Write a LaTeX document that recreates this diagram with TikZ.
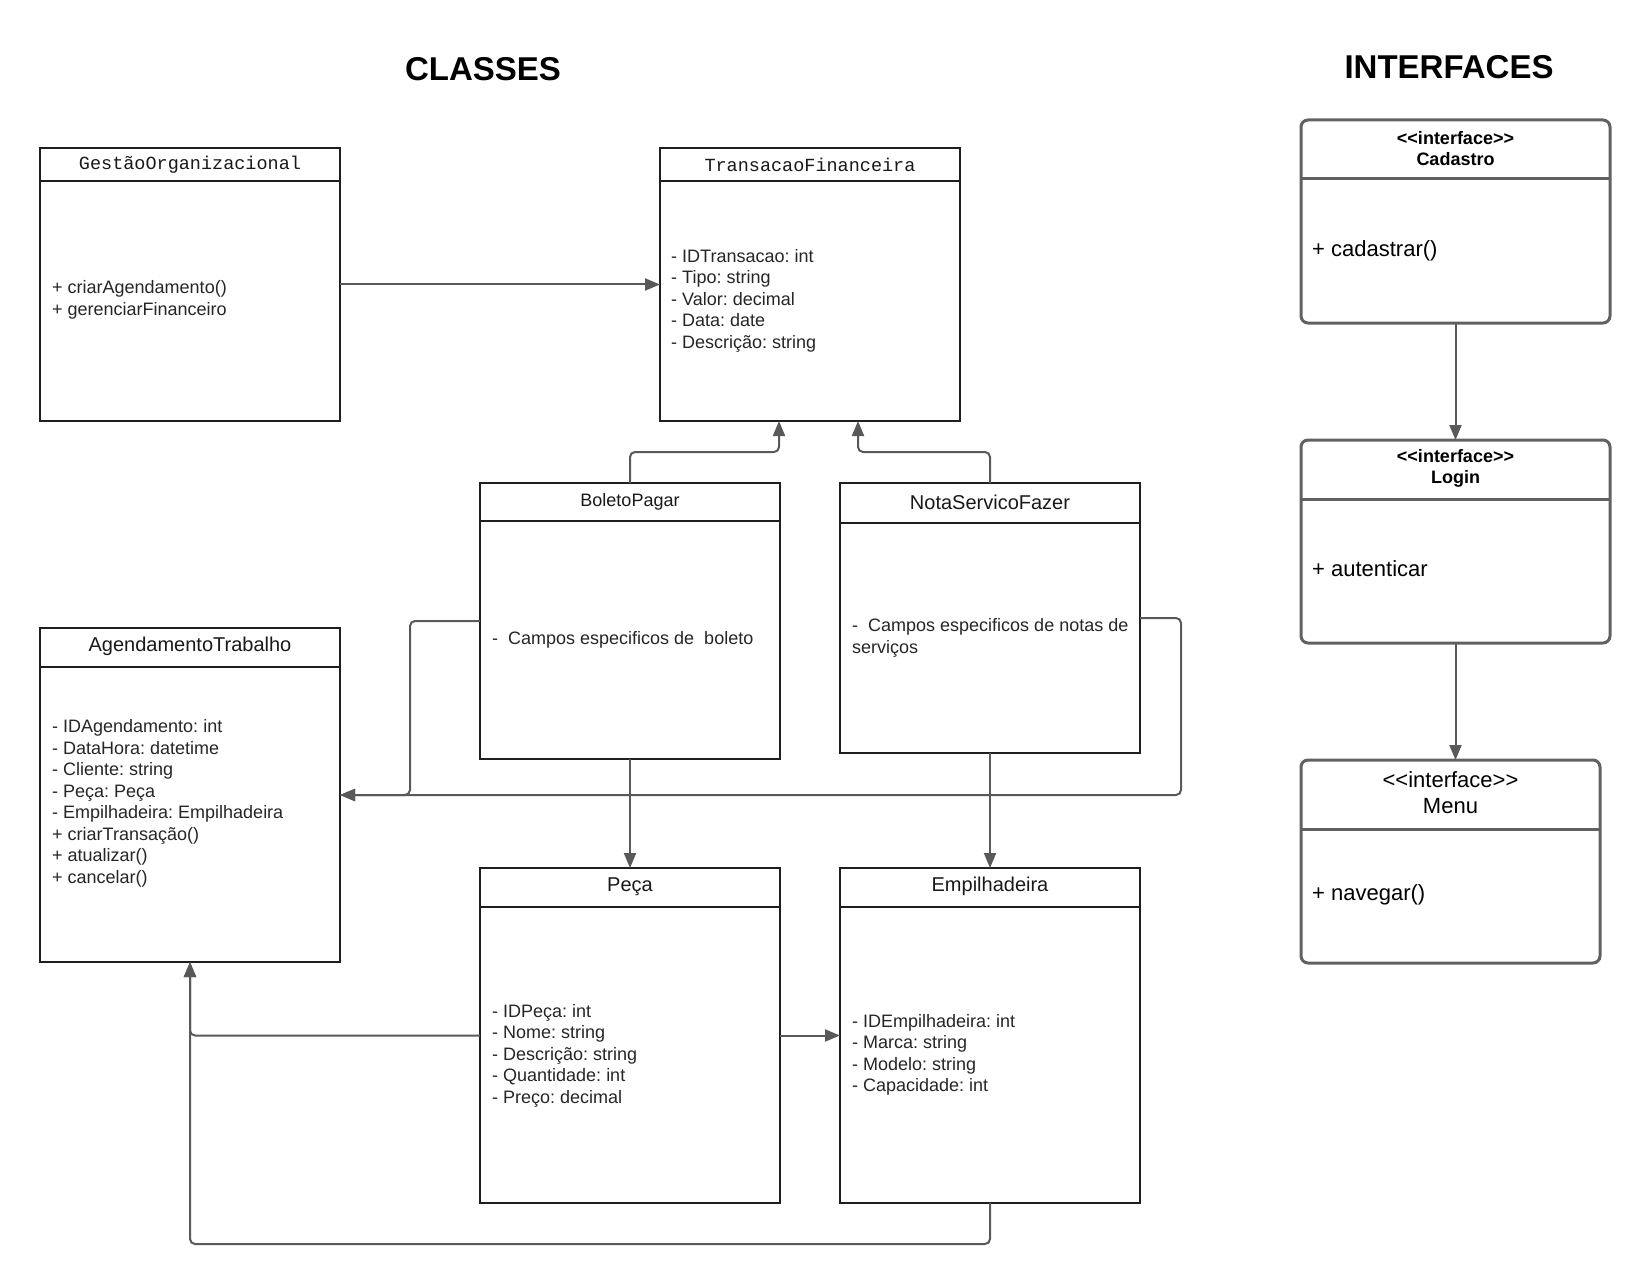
\documentclass[tikz,border=0pt]{standalone}
\usepackage{fontspec}
\setmainfont{Liberation Sans}
\setmonofont{Liberation Mono}
\usetikzlibrary{arrows.meta,calc}
\frenchspacing
\newcommand{\stereo}{\mbox{<}\kern0pt\mbox{<}interface\mbox{>}\kern0pt\mbox{>}}
\begin{document}
\begin{tikzpicture}[x=1pt,y=-1pt,
  cls/.style={draw=black!88, line width=2pt, anchor=north west, inner sep=0pt, outer sep=0pt, minimum width=300pt},
  ifc/.style={draw=black!62, line width=3pt, rounded corners=7pt, anchor=north west, inner sep=0pt, outer sep=0pt},
  hline/.style={draw=black!88, line width=2pt},
  ihline/.style={draw=black!62, line width=3pt},
  conn/.style={draw=black!65, line width=2pt, rounded corners=5pt, -{Triangle[length=15pt,width=12pt]}},
  body/.style={anchor=west, inner sep=0pt, align=left, font=\fontsize{18}{21.5}\selectfont, text=black!85},
  hmono/.style={inner sep=0pt, font=\ttfamily\fontsize{18.5}{22}\selectfont, text=black!90},
  hsans/.style={inner sep=0pt, font=\fontsize{20}{24}\selectfont, text=black!90},
  title/.style={inner sep=0pt, font=\bfseries\fontsize{33}{40}\selectfont},
  ibody/.style={anchor=west, inner sep=0pt, font=\fontsize{22}{26}\selectfont, text=black},
]
\fill[white] (0,0) rectangle (1650,1284);
\useasboundingbox (0,0) rectangle (1650,1284);

% titles
\node[title] (tcls) at (483,69) {CLASSES};
\node[title] (tifc) at (1449,67) {INTERFACES};

% class boxes
\node[cls, minimum height=273pt] (gest) at (40,148) {};
\node[cls, minimum height=273pt] (trans) at (660,148) {};
\node[cls, minimum height=276pt] (bol) at (480,483) {};
\node[cls, minimum height=270pt] (nota) at (840,483) {};
\node[cls, minimum height=334pt] (agd) at (40,628) {};
\node[cls, minimum height=335pt] (peca) at (480,868) {};
\node[cls, minimum height=335pt] (emp) at (840,868) {};

% header separators
\draw[hline] ([yshift=-33pt]gest.north west) -- ([yshift=-33pt]gest.north east);
\draw[hline] ([yshift=-33pt]trans.north west) -- ([yshift=-33pt]trans.north east);
\draw[hline] ([yshift=-38pt]bol.north west) -- ([yshift=-38pt]bol.north east);
\draw[hline] ([yshift=-40pt]nota.north west) -- ([yshift=-40pt]nota.north east);
\draw[hline] ([yshift=-39pt]agd.north west) -- ([yshift=-39pt]agd.north east);
\draw[hline] ([yshift=-39pt]peca.north west) -- ([yshift=-39pt]peca.north east);
\draw[hline] ([yshift=-39pt]emp.north west) -- ([yshift=-39pt]emp.north east);

% header texts
\node[hmono] (gesth) at ([yshift=-17pt]gest.north) {GestãoOrganizacional};
\node[hmono] (transh) at ([yshift=-17pt]trans.north) {TransacaoFinanceira};
\node[hsans, font=\fontsize{18}{22}\selectfont] (bolh) at ([yshift=-18.5pt]bol.north) {BoletoPagar};
\node[hsans] (notah) at ([yshift=-19pt]nota.north) {NotaServicoFazer};
\node[hsans] (agdh) at ([yshift=-18.5pt]agd.north) {AgendamentoTrabalho};
\node[hsans] (pecah) at ([yshift=-18.5pt]peca.north) {Peça};
\node[hsans] (emph) at ([yshift=-18.5pt]emp.north) {Empilhadeira};

% body texts
\node[body] (gestb) at (52,300) {+ criarAgendamento()\\+ gerenciarFinanceiro};
\node[body] (transb) at (671,300.5) {- IDTransacao: int\\- Tipo: string\\- Valor: decimal\\- Data: date\\- Descrição: string};
\node[body] (bolb) at (492,640) {-\ \ Campos especificos de\ \ boleto};
\node[body] (notab) at (852,638) {-\ \ Campos especificos de notas de\\serviços};
\node[body] (agdb) at (52,803.5) {- IDAgendamento: int\\- DataHora: datetime\\- Cliente: string\\- Peça: Peça\\- Empilhadeira: Empilhadeira\\+ criarTransação()\\+ atualizar()\\+ cancelar()};
\node[body] (pecab) at (492,1055.5) {- IDPeça: int\\- Nome: string\\- Descrição: string\\- Quantidade: int\\- Preço: decimal};
\node[body] (empb) at (852,1055) {- IDEmpilhadeira: int\\- Marca: string\\- Modelo: string\\- Capacidade: int};

% interface boxes
\node[ifc, minimum width=309pt, minimum height=203pt] (cad) at (1301,120) {};
\node[ifc, minimum width=309pt, minimum height=203pt] (login) at (1301,440) {};
\node[ifc, minimum width=299pt, minimum height=203pt] (menu) at (1301,760) {};
\draw[ihline] ([yshift=-59pt]cad.north west) -- ([yshift=-59pt]cad.north east);
\draw[ihline] ([yshift=-59pt]login.north west) -- ([yshift=-59pt]login.north east);
\draw[ihline] ([yshift=-69pt]menu.north west) -- ([yshift=-69pt]menu.north east);

\node[inner sep=0pt, align=center, font=\bfseries\fontsize{18}{21}\selectfont] (cadh) at ([yshift=-28.5pt]cad.north) {\stereo\\Cadastro};
\node[inner sep=0pt, align=center, font=\bfseries\fontsize{18}{21}\selectfont] (loginh) at ([yshift=-28.5pt]login.north) {\stereo\\Login};
\node[inner sep=0pt, align=center, font=\fontsize{22}{26}\selectfont] (menuh) at ([yshift=-33pt]menu.north) {\stereo\\Menu};

\node[ibody] (cadb) at (1312,251) {+ cadastrar()};
\node[ibody] (loginb) at (1312,569) {+ autenticar};
\node[ibody] (menub) at (1312,895) {+ navegar()};

% connectors
\draw[conn] (gest.east) -- (trans.west);
\draw[conn] (bol.north) -- ++(0,-31) -| ([xshift=-31pt]trans.south);
\draw[conn] (nota.north) -- ++(0,-31) -| ([xshift=48pt]trans.south);
\draw[conn] (bol.west) -- ++(-70,0) |- (agd.east);
\draw[conn] (nota.east) -- ++(41,0) |- (agd.east);
\draw[conn] (bol.south) -- (peca.north);
\draw[conn] (nota.south) -- (emp.north);
\draw[conn] (peca.west) -| (agd.south);
\draw[conn] (peca.east) -- (emp.west);
\draw[conn] (emp.south) -- ++(0,41) -| (agd.south);
\draw[conn] (cad.south) -- (login.north);
\draw[conn] (login.south) -- (login.south |- menu.north);
\end{tikzpicture}
\end{document}
